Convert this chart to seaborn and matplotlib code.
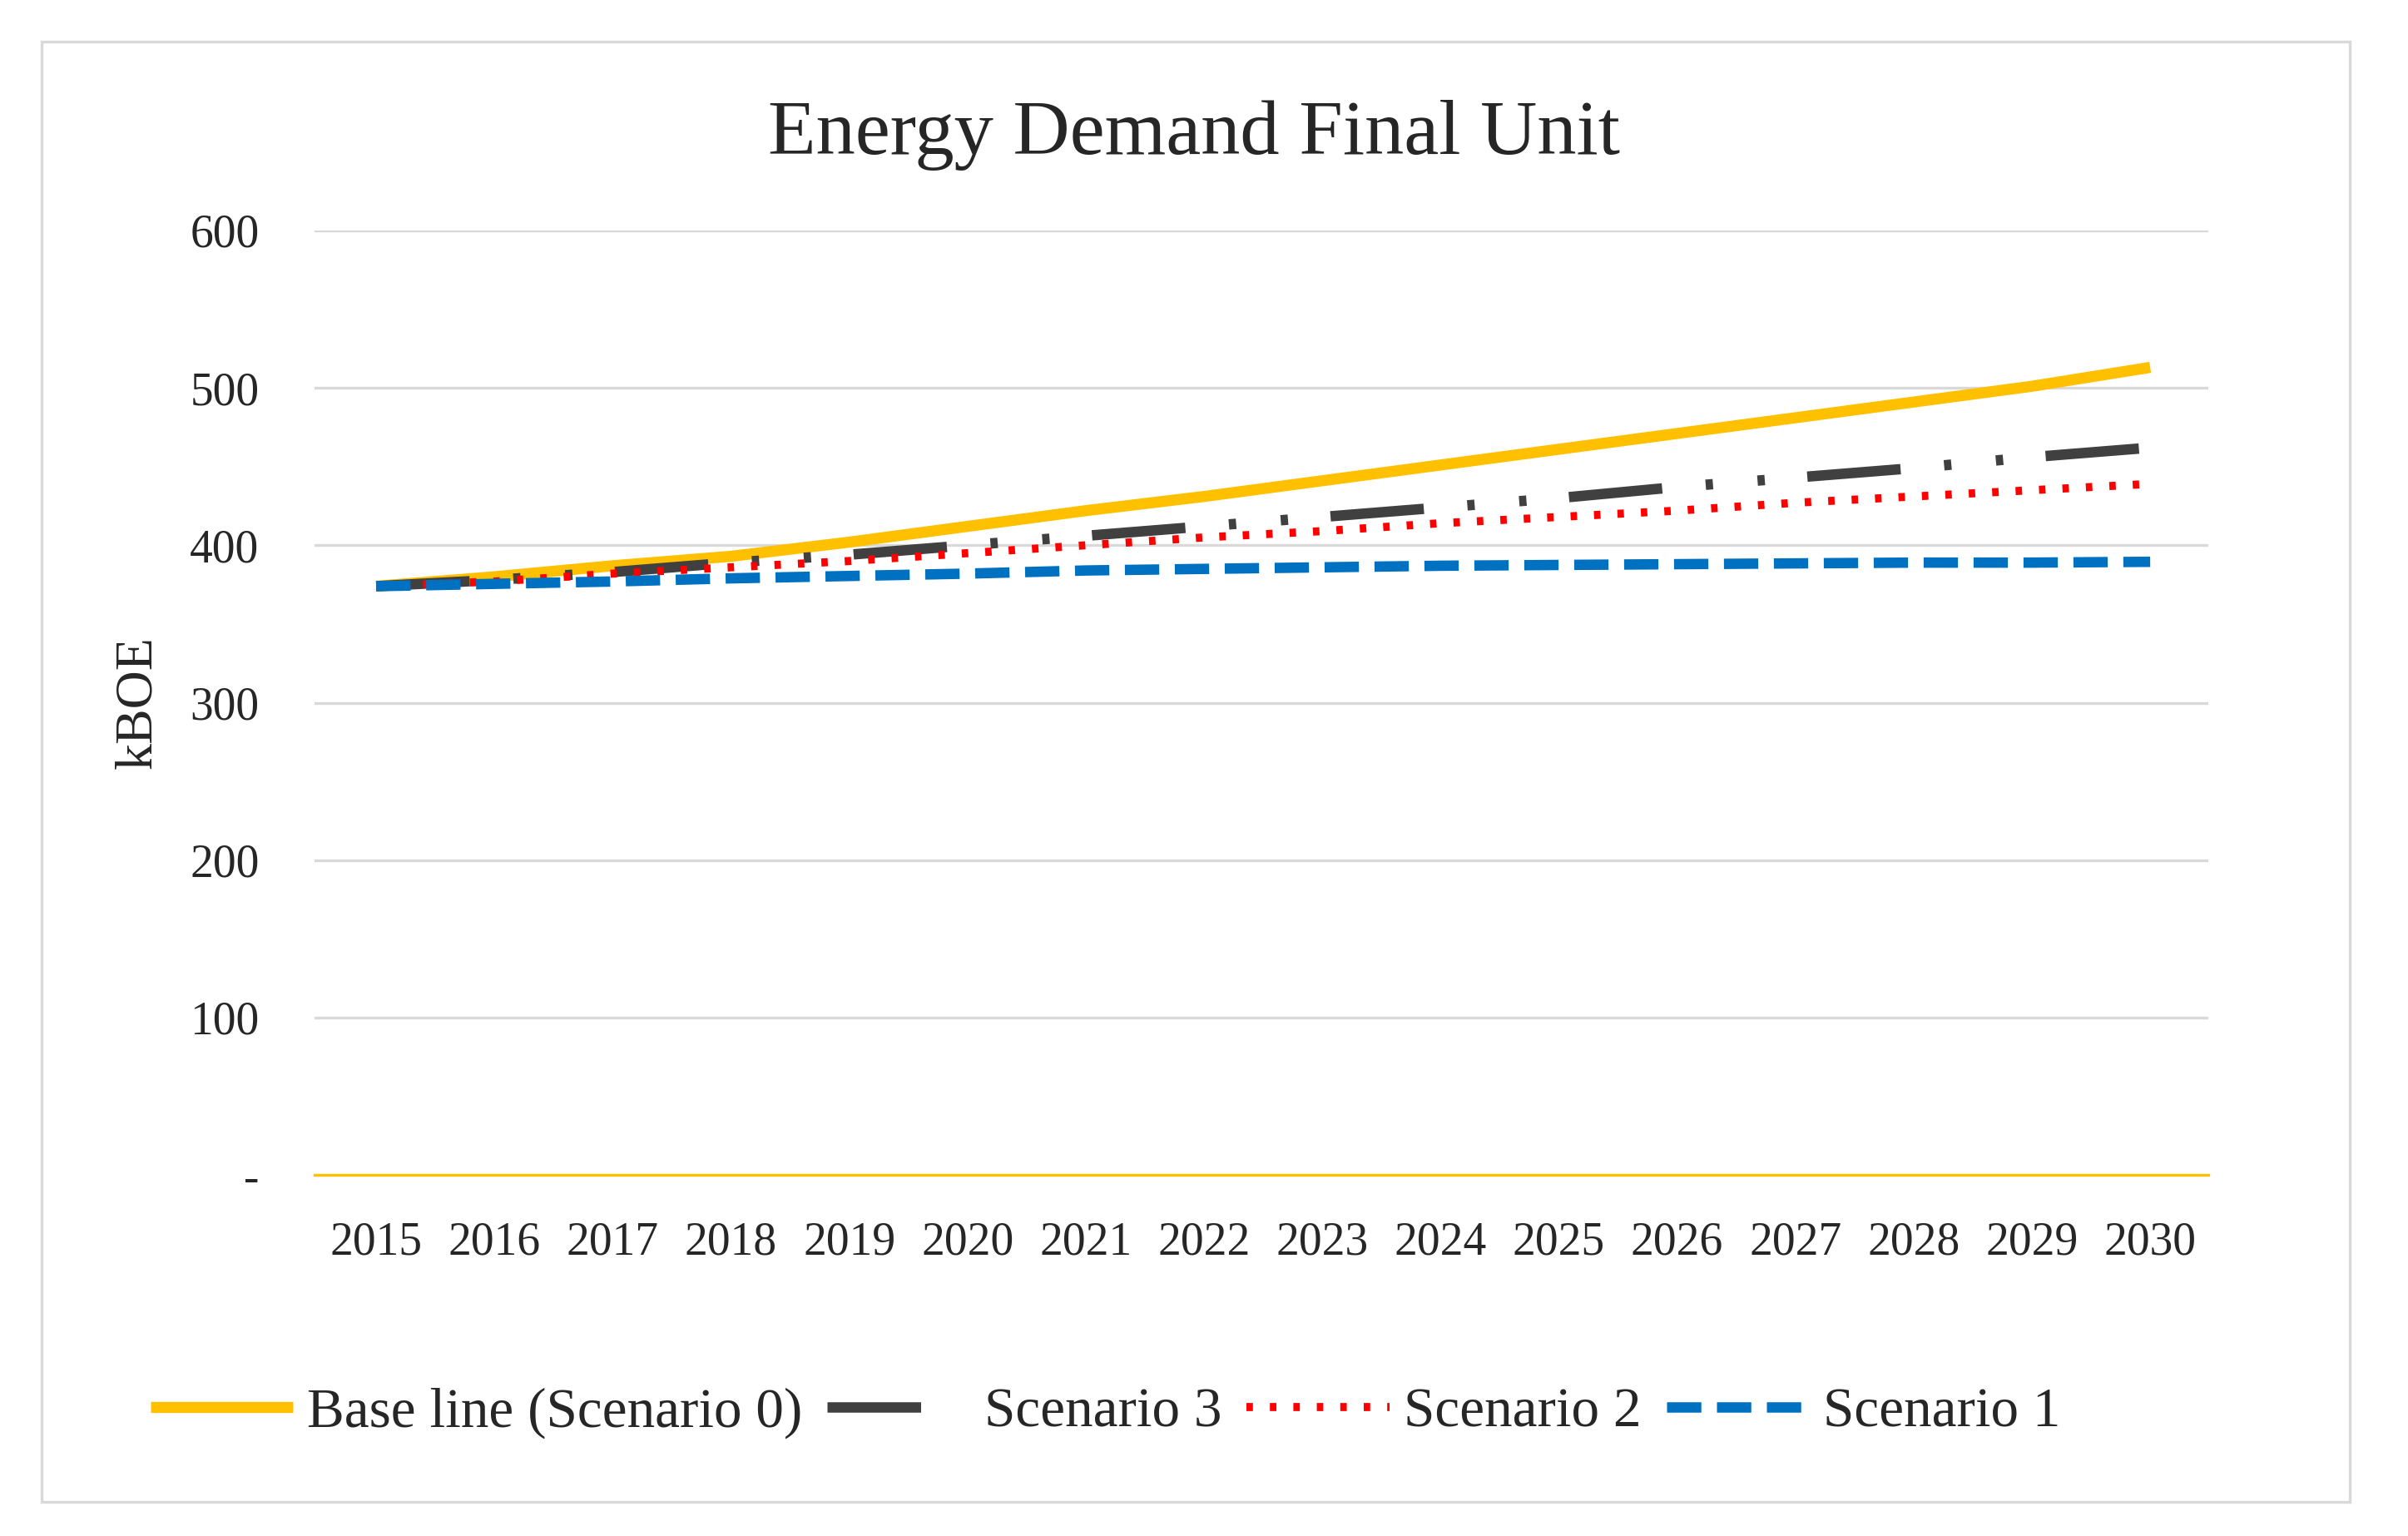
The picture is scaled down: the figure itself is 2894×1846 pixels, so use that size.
import matplotlib
matplotlib.use("Agg")
import matplotlib.pyplot as plt
import seaborn as sns
import pandas as pd
from matplotlib.patches import Rectangle

# data (kBOE)
years = list(range(2015, 2031))
baseline = [374, 380, 387, 393, 402, 412, 422, 431, 441, 451, 461, 471, 481, 491, 501, 513]
scenario_3 = [374, 378, 383, 389, 394, 400, 406, 412, 418, 424, 430, 437, 443, 449, 456, 462]
scenario_2 = [374, 377, 382, 386, 390, 395, 400, 405, 409, 414, 418, 422, 427, 431, 435, 439]
scenario_1 = [374, 375.5, 377, 379, 380.5, 382, 384, 385, 386, 387, 387.5, 388, 388.5, 389, 389, 389.5]
y_ticks = [0, 100, 200, 300, 400, 500, 600]
y_tick_labels = ["-", "100", "200", "300", "400", "500", "600"]

series_names = ["Base line (Scenario 0)", "Scenario 3", "Scenario 2", "Scenario 1"]
series_values = [baseline, scenario_3, scenario_2, scenario_1]

sns.set_theme(style="white")
plt.rcParams['font.family'] = ['Liberation Serif', 'DejaVu Serif']

fig = plt.figure(figsize=(14.47, 9.23), dpi=200)
ax = fig.add_axes([0.1307, 0.235, 0.7863, 0.615])

# styles for each series: colour, width, dash pattern
styles = {
    "Base line (Scenario 0)": dict(color="#FFC000", linewidth=4.8, linestyle="-"),
    "Scenario 3": dict(color="#404040", linewidth=4.5, linestyle=(0, (9.0, 4.2, 0.7, 4.3, 0.7, 4.1))),
    "Scenario 2": dict(color="#FF0000", linewidth=3.5, linestyle=(0, (0.8, 2.1))),
    "Scenario 1": dict(color="#0070C0", linewidth=4.5, linestyle=(0, (3.3, 1.5))),
}

for name, vals in zip(series_names, series_values):
    df = pd.DataFrame({"year": years, "kboe": vals})
    sns.lineplot(data=df, x="year", y="kboe", ax=ax, label=name,
                 dash_capstyle="butt", solid_capstyle="butt", **styles[name])

ax.set_xlim(2014.48, 2030.49)
ax.set_ylim(0, 600)
ax.set_xticks(years)
ax.set_xticklabels([str(y) for y in years], fontsize=20)
ax.set_yticks(y_ticks)
ax.set_yticklabels(y_tick_labels, fontsize=20)
ax.tick_params(axis='x', length=0, pad=20)
ax.tick_params(axis='y', length=0, pad=24)

ax.grid(axis='y', color="#d9d9d9", linewidth=1.2)
ax.set_axisbelow(True)
for side in ["top", "right", "left"]:
    ax.spines[side].set_visible(False)
ax.spines["bottom"].set_color("#FFC000")
ax.spines["bottom"].set_linewidth(1.2)

ax.set_xlabel("")
ax.set_ylabel("kBOE", fontsize=23, labelpad=12)

fig.text(0.496, 0.912, "Energy Demand Final Unit", ha="center", va="center", fontsize=34)

ax.legend_.remove()
handles, labels = ax.get_legend_handles_labels()
leg = fig.legend(handles, labels, loc="center", bbox_to_anchor=(0.459, 0.08), ncol=4,
                 frameon=False, fontsize=24.2, handlelength=2.55, handletextpad=0.25,
                 columnspacing=0.45)
# the Scenario 3 legend key shows only the long dash
leg.get_lines()[1].set_linestyle((0, (9.0, 20.0)))

# outer chart border
fig.patches.append(Rectangle((0.0172, 0.022), 0.9586, 0.951, transform=fig.transFigure,
                             fill=False, edgecolor="#d9d9d9", linewidth=1.2))

fig.savefig("out.png", dpi=200)
